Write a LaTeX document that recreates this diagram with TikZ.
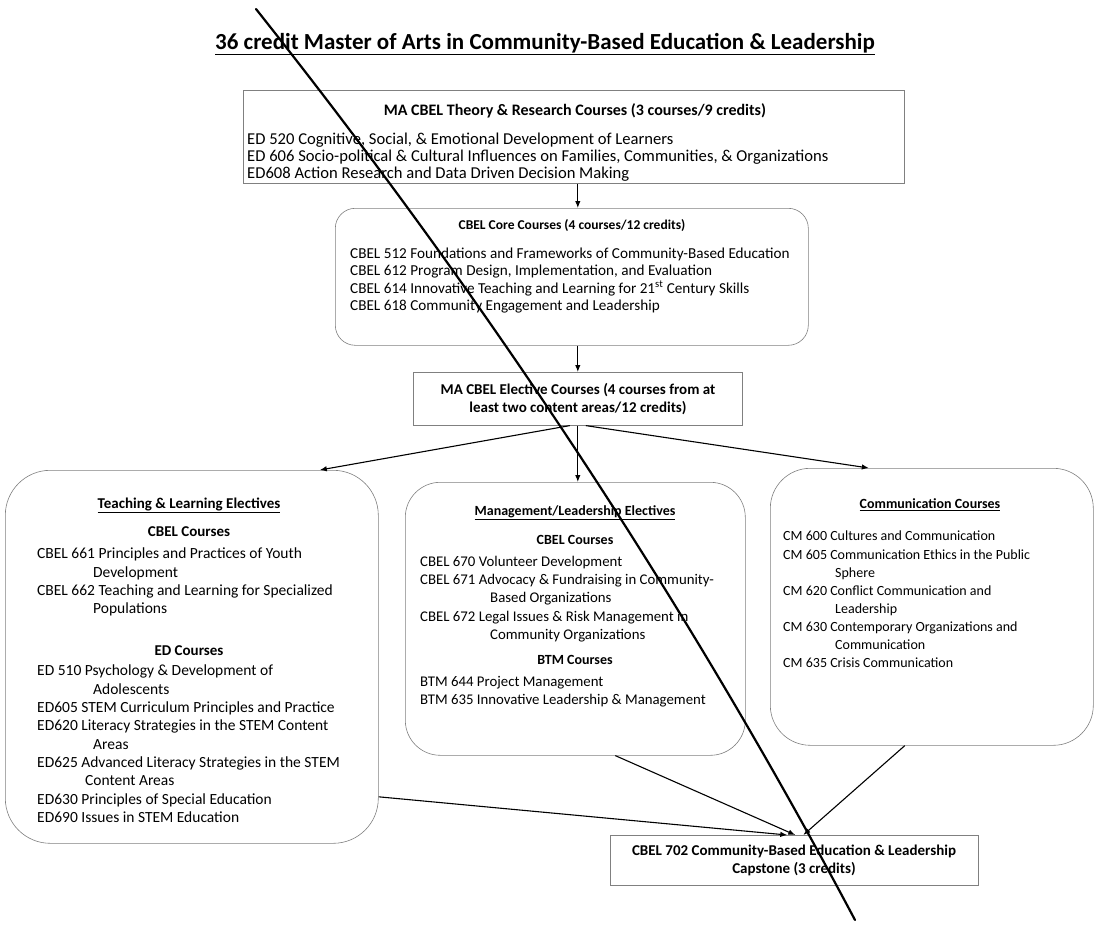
\documentclass[tikz,border=0pt]{standalone}
\usepackage{fontspec}
\setmainfont{Carlito}
\usetikzlibrary{arrows.meta}
\tikzset{
  box/.style={draw=black!50, line width=0.6pt, inner sep=0pt, anchor=north west},
  rbox/.style={box, rounded corners=#1},
  txt/.style={inner sep=0pt, align=left, anchor=north west},
  hd/.style={inner sep=0pt, align=center},
  arr/.style={-{Latex[length=7pt,width=5.5pt]}, line width=1.1pt},
}
\newcommand{\fs}[2]{\fontsize{#1}{#2}\selectfont}
\begin{document}
\begin{tikzpicture}[x=1pt,y=-1pt]
\useasboundingbox[fill=white] (0,0) rectangle (1099,924);
% title
\node[font=\bfseries\fs{23}{27}, inner sep=0pt] (title) at (545,44)
  {\underline{36 credit Master of Arts in Community-Based Education \& Leadership}};

% theory box
\node[box, minimum width=661pt, minimum height=93pt] (theory) at (243,90) {};
\node[hd, font=\bfseries\fs{16}{18}] (theoryh) at (575,111) {MA CBEL Theory \& Research Courses (3 courses/9 credits)};
\node[txt, font=\fs{16.6}{16.8}] (theoryl) at (247,133) {ED 520 Cognitive, Social, \& Emotional Development of Learners\\
ED 606 Socio-political \& Cultural Influences on Families, Communities, \& Organizations\\
ED608 Action Research and Data Driven Decision Making};

% core box
\node[rbox=20pt, minimum width=473pt, minimum height=137pt] (core) at (335,208) {};
\node[hd, font=\bfseries\fs{13.5}{16}] (coreh) at (572,226) {CBEL Core Courses (4 courses/12 credits)};
\node[txt, font=\fs{15.2}{17.2}] (corel) at (350,248) {CBEL 512 Foundations and Frameworks of Community-Based Education\\
CBEL 612 Program Design, Implementation, and Evaluation\\
CBEL 614 Innovative Teaching and Learning for 21\textsuperscript{st} Century Skills\\
CBEL 618 Community Engagement and Leadership};

% elective box
\node[box, minimum width=329pt, minimum height=53pt] (elective) at (413,372) {};
\node[hd, font=\bfseries\fs{15}{18}] (electiveh) at (578,399) {MA CBEL Elective Courses (4 courses from at\\least two content areas/12 credits)};

% teaching & learning box
\node[rbox=45pt, minimum width=373pt, minimum height=373pt] (tl) at (5,470) {};
\node[hd, font=\bfseries\fs{15}{18}] (tlh) at (189,505) {\underline{Teaching \& Learning Electives}};
\node[hd, font=\bfseries\fs{15}{18}] (tlh2) at (189,532) {CBEL Courses};
\node[txt, font=\fs{15.5}{18.3}] (tll) at (37,548) {CBEL 661 Principles and Practices of Youth\\
\hspace*{56pt}Development\\
CBEL 662 Teaching and Learning for Specialized\\
\hspace*{56pt}Populations};
\node[hd, font=\bfseries\fs{15}{18}] (tlh3) at (189,651) {ED Courses};
\node[txt, font=\fs{15.5}{18.3}] (tll2) at (37,665) {ED 510 Psychology \& Development of\\
\hspace*{56pt}Adolescents\\
ED605 STEM Curriculum Principles and Practice\\
ED620 Literacy Strategies in the STEM Content\\
\hspace*{56pt}Areas\\
ED625 Advanced Literacy Strategies in the STEM\\
\hspace*{48pt}Content Areas\\
ED630 Principles of Special Education\\
ED690 Issues in STEM Education};

% management box
\node[rbox=35pt, minimum width=340pt, minimum height=273pt] (mg) at (405,482) {};
\node[hd, font=\bfseries\fs{14}{17}] (mgh) at (575,513) {\underline{Management/Leadership Electives}};
\node[hd, font=\bfseries\fs{14}{17}] (mgh2) at (575,540) {CBEL Courses};
\node[txt, font=\fs{14.8}{18.2}] (mgl) at (420,556) {CBEL 670 Volunteer Development\\
CBEL 671 Advocacy \& Fundraising in Community-\\
\hspace*{70pt}Based Organizations\\
CBEL 672 Legal Issues \& Risk Management in\\
\hspace*{70pt}Community Organizations};
\node[hd, font=\bfseries\fs{14}{17}] (mgh3) at (575,660) {BTM Courses};
\node[txt, font=\fs{14.8}{18.2}] (mgl2) at (420,676) {BTM 644 Project Management\\
BTM 635 Innovative Leadership \& Management};

% communication box
\node[rbox=40pt, minimum width=323pt, minimum height=277pt] (cm) at (770,468) {};
\node[hd, font=\bfseries\fs{14}{17}] (cmh) at (930,505) {\underline{Communication Courses}};
\node[txt, font=\fs{14}{18.1}] (cml) at (783,531) {CM 600 Cultures and Communication\\
CM 605 Communication Ethics in the Public\\
\hspace*{52pt}Sphere\\
CM 620 Conflict Communication and\\
\hspace*{52pt}Leadership\\
CM 630 Contemporary Organizations and\\
\hspace*{52pt}Communication\\
CM 635 Crisis Communication};

% capstone box
\node[box, minimum width=368pt, minimum height=50pt] (cap) at (610,835) {};
\node[hd, font=\bfseries\fs{15}{18}] (caph) at (794,860) {CBEL 702 Community-Based Education \& Leadership\\Capstone (3 credits)};

% connectors
\draw[arr] ([xshift=4pt]theory.south) -- ([xshift=4pt]theory.south |- core.north);
\draw[arr] (core.south -| elective.north) -- (elective.north);
\draw[arr] ([xshift=-8pt]elective.south) -- ([xshift=128pt]tl.north);
\draw[arr] (elective.south) -- (elective.south |- mg.north);
\draw[arr] ([xshift=8pt]elective.south) -- ([xshift=-63pt]cm.north);
\draw[arr] ([yshift=-140pt]tl.east) -- ([xshift=-7pt]cap.north);
\draw[arr] ([xshift=40pt]mg.south) -- ([xshift=1pt]cap.north);
\draw[arr] ([xshift=-27pt]cm.south) -- ([xshift=9pt]cap.north);

% diagonal stroke across the page
\coordinate (strokeA) at (256,9);
\coordinate (strokeB) at (855,920);
\draw[line width=2.2pt, line cap=round] (strokeA) .. controls (487,300) and (687,603) .. (strokeB);
\end{tikzpicture}
\end{document}
